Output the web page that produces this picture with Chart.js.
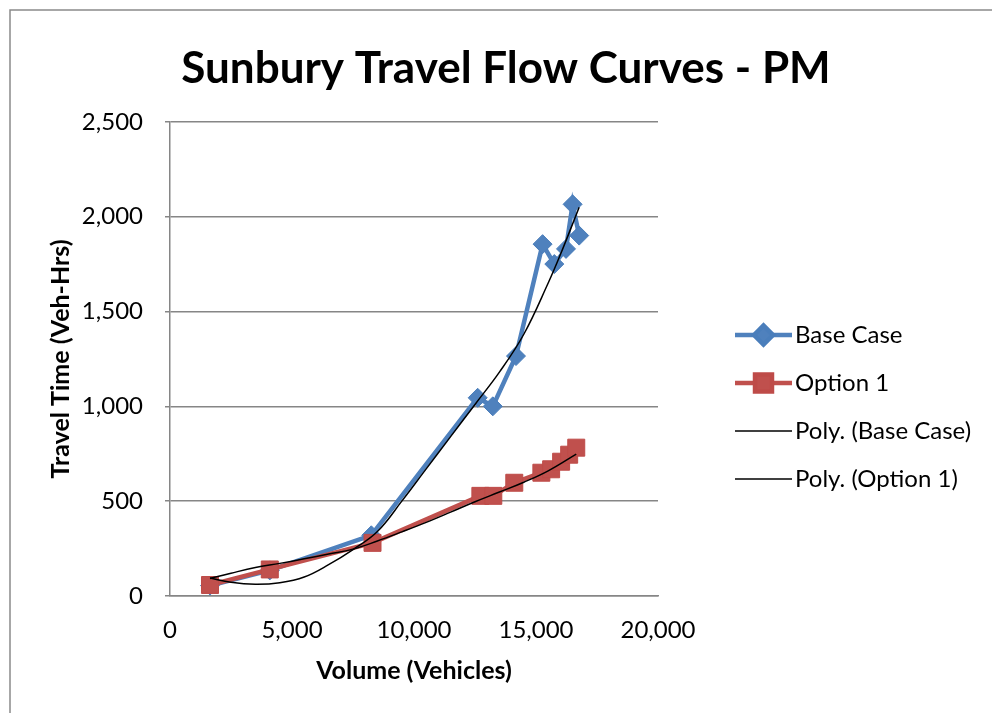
<!DOCTYPE html>
<html>
<head>
<meta charset="utf-8">
<title>Sunbury Travel Flow Curves - PM</title>
<script src="https://cdn.jsdelivr.net/npm/chart.js@4.4.1/dist/chart.umd.min.js"></script>
<style>
    html, body { margin: 0; padding: 0; background: #ffffff; }
    #flowChart { display: block; }
</style>
</head>
<body>
<canvas id="flowChart" width="992" height="713"></canvas>
<script>
// values
const baseVolume = [1640, 4090, 8250, 12610, 13230, 14180, 15270, 15750, 16230, 16500, 16770];
const baseTime = [55, 135, 320, 1045, 1000, 1265, 1855, 1750, 1830, 2065, 1900];
const optionVolume = [1640, 4090, 8300, 12720, 13250, 14110, 15220, 15620, 16030, 16360, 16650];
const optionTime = [58, 140, 280, 528, 528, 597, 650, 668, 708, 745, 782];

// the two "Poly." trendlines, also
const baseTrendVolume = [1640, 2500, 3500, 4500, 5500, 6500, 7500, 8500, 9500, 10500, 11500, 12500, 13500, 14500, 15500, 16000, 16770];
const baseTrendTime = [95, 72, 62, 70, 100, 165, 245, 340, 500, 670, 840, 1010, 1180, 1380, 1650, 1800, 2050];
const optionTrendVolume = [1640, 2500, 3500, 4500, 5500, 6500, 7500, 8500, 9500, 10500, 11500, 12500, 13500, 14500, 15500, 16650];
const optionTrendTime = [92, 120, 150, 172, 196, 221, 247, 290, 338, 388, 442, 497, 548, 600, 660, 748];

const xTicks = [0, 5000, 10000, 15000, 20000];
const yTicks = [0, 500, 1000, 1500, 2000, 2500];

const FONT = 'Lato, "Open Sans", sans-serif';
const GRID = '#868686';

function toPoints(xs, ys) {
    return xs.map((x, i) => ({ x: x, y: ys[i] }));
}

// grey frame round the chart, only top and left edges are in view
const framePlugin = {
    id: 'frame',
    beforeDraw(chart) {
        const ctx = chart.ctx;
        ctx.save();
        ctx.fillStyle = '#ffffff';
        ctx.fillRect(0, 0, chart.width, chart.height);
        ctx.strokeStyle = '#8a8a8a';
        ctx.lineWidth = 1.5;
        ctx.beginPath();
        ctx.moveTo(chart.width, 10);
        ctx.lineTo(10, 10);
        ctx.lineTo(10, chart.height);
        ctx.stroke();
        ctx.restore();
    }
};

// Excel style legend: line sample with marker, drawn in the space kept on the right
const sideLegendPlugin = {
    id: 'sideLegend',
    afterDraw(chart) {
        const ctx = chart.ctx;
        const rows = [335, 383, 431, 479];
        const x0 = 735, x1 = 792;
        ctx.save();
        chart.data.datasets.forEach((ds, i) => {
            const y = rows[i];
            ctx.strokeStyle = ds.borderColor;
            ctx.lineWidth = ds.borderWidth;
            ctx.beginPath();
            ctx.moveTo(x0, y);
            ctx.lineTo(x1, y);
            ctx.stroke();
            if (ds.pointRadius > 0) {
                ctx.fillStyle = ds.pointBackgroundColor;
                ctx.strokeStyle = ds.pointBorderColor;
                Chart.helpers.drawPoint(ctx, {
                    pointStyle: ds.pointStyle,
                    radius: ds.pointRadius,
                    rotation: 0,
                    borderWidth: 1
                }, (x0 + x1) / 2, y);
            }
            ctx.fillStyle = '#000000';
            ctx.font = '24px ' + FONT;
            ctx.textBaseline = 'middle';
            ctx.textAlign = 'left';
            ctx.fillText(ds.label, x1 + 3, y);
        });
        ctx.restore();
    }
};

new Chart(document.getElementById('flowChart'), {
    type: 'line',
    data: {
        datasets: [
            {
                label: 'Base Case',
                data: toPoints(baseVolume, baseTime),
                borderColor: '#4F81BD',
                borderWidth: 4.5,
                pointStyle: 'rectRot',
                pointRadius: 9.5,
                pointBackgroundColor: '#4F81BD',
                pointBorderColor: '#4A7EBB',
                pointBorderWidth: 1,
                tension: 0,
                order: 3
            },
            {
                label: 'Option 1',
                data: toPoints(optionVolume, optionTime),
                borderColor: '#C0504D',
                borderWidth: 4.5,
                pointStyle: 'rect',
                pointRadius: 12,
                pointBackgroundColor: '#C0504D',
                pointBorderColor: '#BE4B48',
                pointBorderWidth: 1,
                tension: 0,
                order: 2
            },
            {
                label: 'Poly. (Base Case)',
                data: toPoints(baseTrendVolume, baseTrendTime),
                borderColor: '#000000',
                borderWidth: 1.5,
                pointRadius: 0,
                tension: 0.4,
                order: 1
            },
            {
                label: 'Poly. (Option 1)',
                data: toPoints(optionTrendVolume, optionTrendTime),
                borderColor: '#000000',
                borderWidth: 1.5,
                pointRadius: 0,
                tension: 0.4,
                order: 0
            }
        ]
    },
    options: {
        responsive: false,
        animation: false,
        layout: { padding: { left: 20, right: 0, top: 0, bottom: 17 } },
        plugins: {
            legend: { display: false },
            tooltip: { enabled: false },
            title: {
                display: true,
                text: 'Sunbury Travel Flow Curves - PM',
                font: { family: FONT, size: 44, weight: 'bold' },
                color: '#000000',
                padding: { top: 42, bottom: 27 }
            }
        },
        scales: {
            x: {
                type: 'linear',
                min: xTicks[0],
                max: xTicks[xTicks.length - 1],
                afterBuildTicks: scale => { scale.ticks = xTicks.map(v => ({ value: v })); },
                afterFit: scale => { scale.height = 100; },
                grid: { display: false, drawTicks: false },
                border: { display: true, color: GRID, width: 1.5 },
                ticks: {
                    color: '#000000',
                    font: { family: FONT, size: 24 },
                    padding: 20,
                    maxRotation: 0,
                    callback: v => v.toLocaleString('en-US')
                },
                title: {
                    display: true,
                    text: 'Volume (Vehicles)',
                    color: '#000000',
                    font: { family: FONT, size: 25, weight: 'bold' },
                    padding: { top: 0, bottom: 10 }
                }
            },
            y: {
                type: 'linear',
                min: yTicks[0],
                max: yTicks[yTicks.length - 1],
                afterBuildTicks: scale => { scale.ticks = yTicks.map(v => ({ value: v })); },
                afterFit: scale => { scale.width = 150; },
                grid: { color: GRID, lineWidth: 1.5, tickLength: 5 },
                border: { display: true, color: GRID, width: 1.5 },
                ticks: {
                    color: '#000000',
                    font: { family: FONT, size: 24 },
                    padding: 22,
                    callback: v => v.toLocaleString('en-US')
                },
                title: {
                    display: true,
                    text: 'Travel Time (Veh-Hrs)',
                    color: '#000000',
                    font: { family: FONT, size: 25, weight: 'bold' },
                    padding: { top: 26, bottom: 0 }
                }
            },
            // empty axis that only keeps the legend space on the right
            legendSpace: {
                type: 'linear',
                position: 'right',
                display: true,
                grid: { display: false, drawTicks: false },
                border: { display: false },
                ticks: { display: false },
                afterFit: scale => { scale.width = 334; }
            }
        }
    },
    plugins: [framePlugin, sideLegendPlugin]
});
</script>
</body>
</html>
